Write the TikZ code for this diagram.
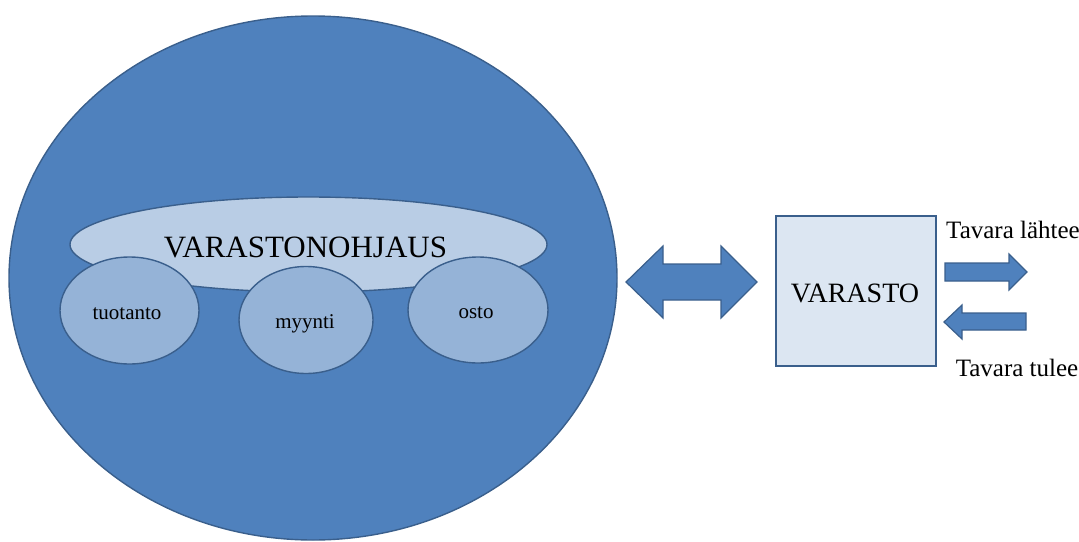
\documentclass[tikz,border=0pt]{standalone}
\usepackage{fontspec}
\setmainfont{Liberation Serif}
\usetikzlibrary{shapes.geometric}
\definecolor{bigblue}{HTML}{4F81BD}
\definecolor{edgeblue}{HTML}{3A5F8C}
\definecolor{lightblue}{HTML}{B9CDE5}
\definecolor{midblue}{HTML}{95B3D7}
\definecolor{paleblue}{HTML}{DCE6F2}
\tikzset{
  blob/.style={ellipse, draw=edgeblue, line width=1.4pt, inner sep=0pt},
  lbl/.style={anchor=base, inner sep=0pt, text=black},
  arrowshape/.style={fill=bigblue, draw=edgeblue, line width=1.2pt, line join=miter}
}
\begin{document}
\begin{tikzpicture}[x=1pt,y=-1pt]
\useasboundingbox (0,0) rectangle (1079,541);
% big circle
\node[blob, fill=bigblue, minimum width=608pt, minimum height=524pt] (big) at (313,278) {};
% control ellipse
\node[blob, fill=lightblue, minimum width=477pt, minimum height=95pt] (ohj) at (308.5,244.5) {};
\node[lbl, font=\fontsize{31}{31}\selectfont] (ohjt) at (305.5,257.5) {VARASTONOHJAUS};
% small ellipses
\node[blob, fill=midblue, minimum width=139pt, minimum height=107pt] (tuo) at (129.5,310.5) {};
\node[blob, fill=midblue, minimum width=134pt, minimum height=107pt] (myy) at (306,320) {};
\node[blob, fill=midblue, minimum width=140pt, minimum height=106pt] (ost) at (478,310) {};
\node[lbl, font=\fontsize{21}{21}\selectfont] (tuot) at (127,319) {tuotanto};
\node[lbl, font=\fontsize{21}{21}\selectfont] (myyt) at (305,328) {myynti};
\node[lbl, font=\fontsize{21}{21}\selectfont] (ostt) at (476,318) {osto};
% double arrow
\draw[arrowshape] (626,282) -- (663,246) -- (663,264) -- (721,264) -- (721,246) -- (757,282)
  -- (721,318) -- (721,300) -- (663,300) -- (663,318) -- cycle;
% warehouse box
\node[draw=edgeblue, line width=1.4pt, fill=paleblue, minimum width=160pt, minimum height=150pt, inner sep=0pt] (var) at (856,291) {};
\node[lbl, font=\fontsize{28}{28}\selectfont] (vart) at (855,302) {VARASTO};
% out / in arrows
\draw[arrowshape] (945,263) -- (1009,263) -- (1009,254) -- (1027,272) -- (1009,290) -- (1009,281) -- (945,281) -- cycle;
\draw[arrowshape] (1026,313) -- (962,313) -- (962,305) -- (944,322) -- (962,339) -- (962,330) -- (1026,330) -- cycle;
\node[lbl, font=\fontsize{25}{25}\selectfont] (out) at (1013,238) {Tavara lähtee};
\node[lbl, font=\fontsize{25}{25}\selectfont] (in) at (1017,376) {Tavara tulee};
\end{tikzpicture}
\end{document}
